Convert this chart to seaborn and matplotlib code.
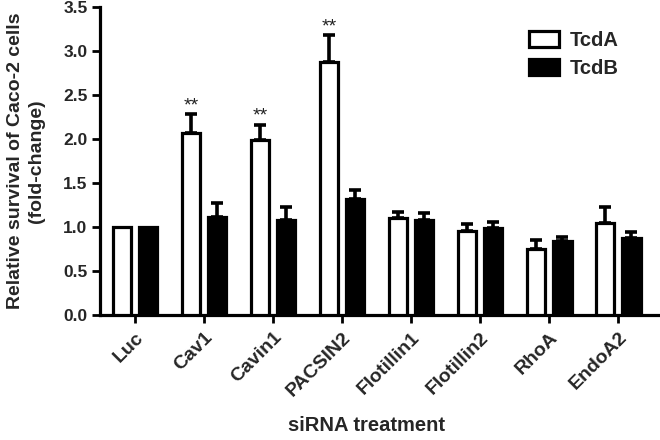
import matplotlib
matplotlib.use("Agg")
import matplotlib.pyplot as plt
import seaborn as sns
import pandas as pd
import numpy as np

categories = ["Luc", "Cav1", "Cavin1", "PACSIN2", "Flotillin1", "Flotillin2", "RhoA", "EndoA2"]
tcda = [1.00, 2.07, 1.99, 2.88, 1.10, 0.96, 0.75, 1.05]
tcda_err = [0.00, 0.21, 0.17, 0.30, 0.07, 0.07, 0.10, 0.18]
tcdb = [1.00, 1.11, 1.08, 1.32, 1.08, 0.99, 0.84, 0.88]
tcdb_err = [0.00, 0.16, 0.15, 0.10, 0.08, 0.07, 0.05, 0.06]
stars_a = ["", "**", "**", "**", "", "", "", ""]
series = ["TcdA", "TcdB"]

sns.set_style("ticks")
plt.rcParams["font.family"] = ["Liberation Sans", "DejaVu Sans"]
plt.rcParams["font.weight"] = "bold"

df = pd.DataFrame({
    "cat": categories * 2,
    "val": tcda + tcdb,
    "err": tcda_err + tcdb_err,
    "series": [series[0]] * len(categories) + [series[1]] * len(categories),
})

fig = plt.figure(figsize=(6.6, 4.4), dpi=100)
ax = fig.add_axes([0.1515, 0.284, 0.846, 0.7])

sns.barplot(data=df, x="cat", y="val", hue="series", order=categories,
            hue_order=series, palette={"TcdA": "white", "TcdB": "black"},
            edgecolor="black", linewidth=2.3, width=0.76, gap=0.3,
            errorbar=None, ax=ax, zorder=3)

for i, s in enumerate(series):
    sub = df[df.series == s]
    for j, cat in enumerate(categories):
        p = ax.patches[i * len(categories) + j]
        xc = p.get_x() + p.get_width() / 2
        v = sub.val.iloc[j]
        e = sub.err.iloc[j]
        if e > 0:
            ax.errorbar([xc], [v], yerr=[[0], [e]], fmt="none", ecolor="black",
                        elinewidth=2.6, capsize=4.3, capthick=2.6, zorder=2)
        if i == 0 and stars_a[j]:
            ax.text(xc, v + e + 0.0, stars_a[j], ha="center", va="bottom",
                    fontsize=14, fontweight="normal", color="#222222")

ax.set_ylim(0, 3.5)
ax.set_xlim(-0.505, 7.58)
ax.set_yticks(np.arange(0, 3.51, 0.5))
ax.set_yticklabels([f"{v:.1f}" for v in np.arange(0, 3.51, 0.5)],
                   fontsize=12.5, fontweight="bold")
ax.set_xticks(range(len(categories)))
ax.set_xticklabels(categories, rotation=45, ha="right", rotation_mode="anchor",
                   fontsize=14, fontweight="bold")
ax.tick_params(axis="both", width=2, length=6, color="black", pad=3)
ax.tick_params(axis="x", pad=4)
for side in ["left", "bottom"]:
    ax.spines[side].set_linewidth(2.3)
    ax.spines[side].set_color("black")
sns.despine(ax=ax)

ax.set_xlabel("siRNA treatment", fontsize=14.5, fontweight="bold")
ax.xaxis.set_label_coords(0.478, -0.327)
ax.set_ylabel("Relative survival of Caco-2 cells\n(fold-change)", fontsize=14,
              fontweight="bold", labelpad=13, linespacing=1.3)

leg = ax.legend(loc="upper right", bbox_to_anchor=(0.962, 0.98), frameon=False,
                prop={"weight": "bold", "size": 14.5}, handlelength=1.5,
                handleheight=0.85, handletextpad=0.55, labelspacing=0.45)
for h in leg.legend_handles:
    h.set_linewidth(2.3)
    h.set_edgecolor("black")

fig.savefig("out.png", dpi=100)
